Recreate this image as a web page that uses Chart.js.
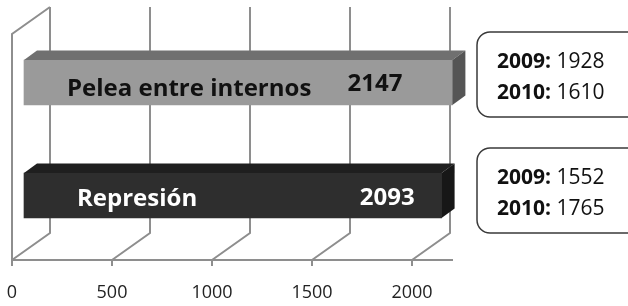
<!DOCTYPE html>
<html>
<head>
<meta charset="utf-8">
<script src="https://cdn.jsdelivr.net/npm/chart.js@4.4.1/dist/chart.umd.min.js"></script>
<style>
html,body{margin:0;padding:0;background:#ffffff;}
#wrap{width:628px;height:306px;position:relative;}
</style>
</head>
<body>
<div id="wrap"><canvas id="c" width="628" height="306"></canvas></div>
<script>
// ---- data ----
const categories = ['Pelea entre internos', 'Represión'];
const totals = [2147, 2093];
const years = ['2009', '2010'];
const values2009 = [1928, 1552];
const values2010 = [1610, 1765];
const tickValues = [0, 500, 1000, 1500, 2000];
const axisMax = 2200;

// ---- styling ----
const FONT = '"Open Sans", "Liberation Sans", sans-serif';
const frontColors = ['#9a9a9a', '#2e2e2e'];
const topColors = ['#707070', '#1f1f1f'];
const sideColors = ['#555555', '#171717'];
const labelColors = ['#111111', '#ffffff'];
const WALL = {dx: 38, dy: -27};     // depth of the back wall
const BAR_SHIFT = {dx: 11, dy: -8}; // bar front face depth position
const BAR_DEPTH = {dx: 13, dy: -9.5};
const nameOffsetX = [43, 53];       // from bar's left front edge
const nameOffsetY = [7, 3.5];
const valueOffsetX = [-50, -27];    // right edge of value text from bar's right front edge
const valueOffsetY = [1.5, 3];
const boxOffsetY = [-16, -13];

const depth3d = {
  id: 'depth3d',
  beforeDatasetsDraw(chart) {
    const {ctx, chartArea: a, scales: {x}} = chart;
    ctx.save();
    ctx.strokeStyle = '#8e8e8e';
    ctx.lineWidth = 2;
    ctx.beginPath();
    ctx.moveTo(a.left, a.bottom);
    ctx.lineTo(a.left, a.top);
    ctx.lineTo(a.left + WALL.dx, a.top + WALL.dy);
    tickValues.forEach(v => {
      const px = x.getPixelForValue(v);
      ctx.moveTo(px, a.bottom);
      ctx.lineTo(px + WALL.dx, a.bottom + WALL.dy);
      ctx.lineTo(px + WALL.dx, a.top + WALL.dy);
    });
    ctx.stroke();
    ctx.restore();
    ctx.save();
    ctx.translate(BAR_SHIFT.dx, BAR_SHIFT.dy);
  },
  afterDatasetsDraw(chart) {
    const ctx = chart.ctx;
    ctx.restore();
    const meta = chart.getDatasetMeta(0);
    meta.data.forEach((bar, i) => {
      const p = bar.getProps(['x', 'y', 'base', 'height'], true);
      const x0 = Math.min(p.base, p.x) + BAR_SHIFT.dx;
      const x1 = Math.max(p.base, p.x) + BAR_SHIFT.dx;
      const yT = p.y - p.height / 2 + BAR_SHIFT.dy;
      const yB = p.y + p.height / 2 + BAR_SHIFT.dy;
      // top face
      ctx.fillStyle = topColors[i];
      ctx.beginPath();
      ctx.moveTo(x0, yT);
      ctx.lineTo(x0 + BAR_DEPTH.dx, yT + BAR_DEPTH.dy);
      ctx.lineTo(x1 + BAR_DEPTH.dx, yT + BAR_DEPTH.dy);
      ctx.lineTo(x1, yT);
      ctx.closePath();
      ctx.fill();
      // side face
      ctx.fillStyle = sideColors[i];
      ctx.beginPath();
      ctx.moveTo(x1, yT);
      ctx.lineTo(x1 + BAR_DEPTH.dx, yT + BAR_DEPTH.dy);
      ctx.lineTo(x1 + BAR_DEPTH.dx, yB + BAR_DEPTH.dy);
      ctx.lineTo(x1, yB);
      ctx.closePath();
      ctx.fill();
      // labels
      const yc = (yT + yB) / 2;
      ctx.fillStyle = labelColors[i];
      ctx.font = 'bold 24px ' + FONT;
      ctx.textBaseline = 'middle';
      ctx.textAlign = 'left';
      ctx.fillText(chart.data.labels[i], x0 + nameOffsetX[i], yc + nameOffsetY[i]);
      ctx.textAlign = 'right';
      ctx.fillText(String(chart.data.datasets[0].data[i]), x1 + valueOffsetX[i], yc + valueOffsetY[i]);
    });
  },
  afterDraw(chart) {
    const {ctx, scales: {y}} = chart;
    const bx = 477, bw = 170, bh = 85, r = 13;
    categories.forEach((c, i) => {
      const cy = y.getPixelForValue(i) + boxOffsetY[i];
      const by = cy - bh / 2;
      ctx.save();
      ctx.beginPath();
      ctx.moveTo(bx + r, by);
      ctx.lineTo(bx + bw - r, by);
      ctx.arcTo(bx + bw, by, bx + bw, by + r, r);
      ctx.lineTo(bx + bw, by + bh - r);
      ctx.arcTo(bx + bw, by + bh, bx + bw - r, by + bh, r);
      ctx.lineTo(bx + r, by + bh);
      ctx.arcTo(bx, by + bh, bx, by + bh - r, r);
      ctx.lineTo(bx, by + r);
      ctx.arcTo(bx, by, bx + r, by, r);
      ctx.closePath();
      ctx.fillStyle = '#ffffff';
      ctx.fill();
      ctx.strokeStyle = '#3a3a3a';
      ctx.lineWidth = 1.5;
      ctx.stroke();
      const vals = [values2009[i], values2010[i]];
      years.forEach((yr, k) => {
        const ty = cy + (k === 0 ? -12 : 19);
        ctx.fillStyle = '#111111';
        ctx.textBaseline = 'middle';
        ctx.textAlign = 'left';
        ctx.font = 'bold 21px ' + FONT;
        const t1 = yr + ':';
        ctx.fillText(t1, 497, ty);
        const w1 = ctx.measureText(t1).width;
        ctx.font = '21px ' + FONT;
        ctx.fillText(' ' + vals[k], 497 + w1, ty);
      });
      ctx.restore();
    });
  }
};

new Chart(document.getElementById('c'), {
  type: 'bar',
  data: {
    labels: categories,
    datasets: [{
      data: totals,
      backgroundColor: frontColors,
      borderWidth: 0,
      barThickness: 45
    }]
  },
  options: {
    indexAxis: 'y',
    responsive: false,
    animation: false,
    devicePixelRatio: 1,
    layout: {padding: {left: 12, right: 176, top: 34, bottom: 0}},
    plugins: {legend: {display: false}, tooltip: {enabled: false}},
    scales: {
      x: {
        min: 0,
        max: axisMax,
        afterBuildTicks: (s) => { s.ticks = tickValues.map(v => ({value: v})); },
        afterFit: (s) => { s.height = 46; s.paddingLeft = 5; s.paddingRight = 20; },
        grid: {drawOnChartArea: false, drawTicks: true, tickLength: 6, color: '#8e8e8e', lineWidth: 2},
        border: {display: true, color: '#8e8e8e', width: 2},
        ticks: {
          color: '#222222',
          font: {family: FONT, size: 18},
          padding: 16,
          maxRotation: 0,
          callback: (v) => String(v)
        }
      },
      y: {display: false}
    }
  },
  plugins: [depth3d]
});
</script>
</body>
</html>
